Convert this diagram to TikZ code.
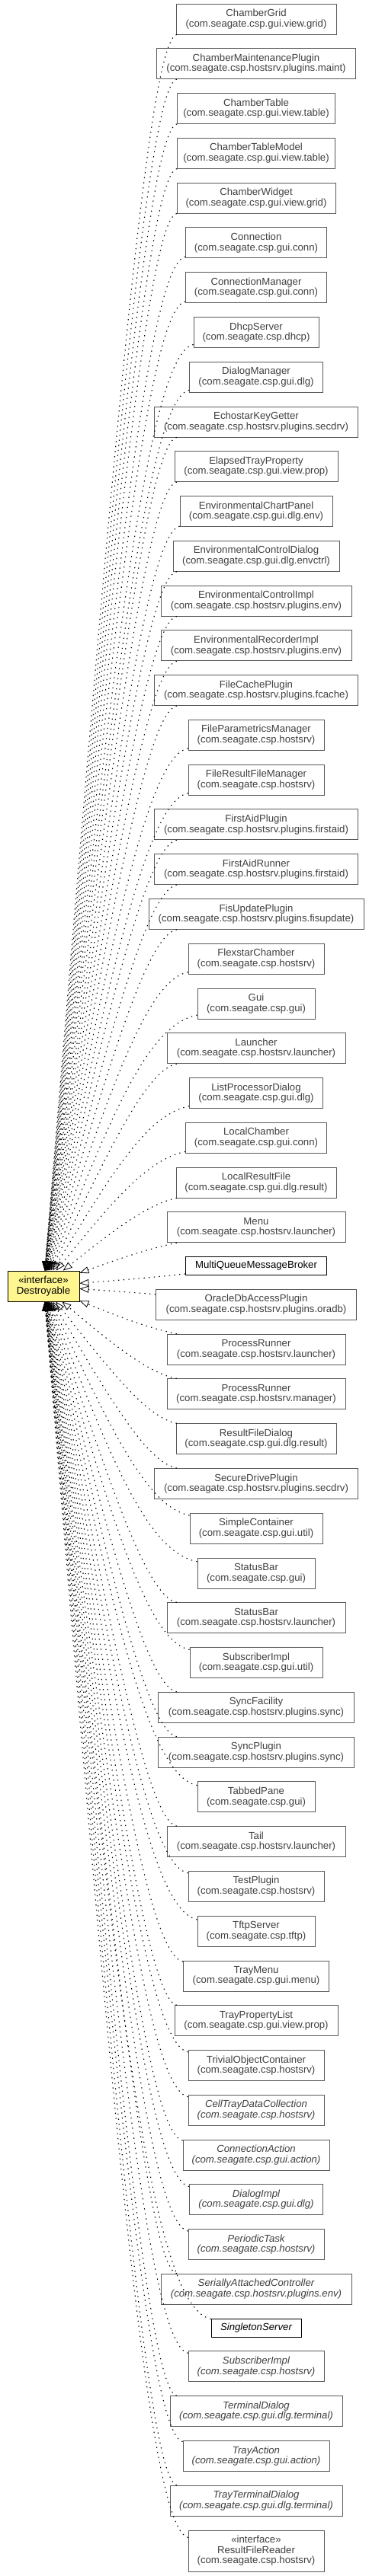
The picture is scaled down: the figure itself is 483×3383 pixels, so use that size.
\documentclass[tikz,border=0pt]{standalone}
\usepackage{fontspec}
\setmainfont{Liberation Sans}
\usetikzlibrary{arrows.meta}
\definecolor{textgray}{gray}{0.25}
\definecolor{boxgray}{gray}{0.35}
\definecolor{ifyellow}{HTML}{FFF68F}
\newcommand\umlfont{\fontsize{13.2}{13.6}\selectfont}
\tikzset{
  cls/.style={draw=boxgray, line width=0.8pt, fill=white, text=textgray, align=center,
    inner xsep=2pt, inner ysep=0pt, minimum height=40pt, font=\umlfont},
  abs/.style={cls, font=\umlfont\itshape},
  cur/.style={draw=black, text=black},
  one/.style={minimum height=24pt},
  dnode/.style={draw=black, line width=0.8pt, fill=ifyellow, text=black, align=center,
    inner xsep=2pt, inner ysep=0pt, minimum height=40pt, minimum width=94pt, font=\umlfont},
  depedge/.style={draw=black, line width=1.1pt, dash pattern=on 1.4pt off 5.3pt,
    -{Triangle[open, length=12pt, width=9pt, line width=0.8pt]}}
}
\begin{document}
\begin{tikzpicture}[x=1pt, y=-1pt]
\useasboundingbox (0,0) rectangle (483,3383);
\node[dnode] (d) at (57,1689) {«interface»\\Destroyable};
\node[cls, minimum width=210pt] (n1) at (336,25) {ChamberGrid\\(com.seagate.csp.gui.view.grid)};
\node[cls, minimum width=261pt] (n2) at (336,83.77) {ChamberMaintenancePlugin\\(com.seagate.csp.hostsrv.plugins.maint)};
\node[cls, minimum width=207pt] (n3) at (336,142.54) {ChamberTable\\(com.seagate.csp.gui.view.table)};
\node[cls, minimum width=207pt] (n4) at (336,201.31) {ChamberTableModel\\(com.seagate.csp.gui.view.table)};
\node[cls, minimum width=208pt] (n5) at (336,260.08) {ChamberWidget\\(com.seagate.csp.gui.view.grid)};
\node[cls, minimum width=185pt] (n6) at (336,318.85) {Connection\\(com.seagate.csp.gui.conn)};
\node[cls, minimum width=185pt] (n7) at (336,377.62) {ConnectionManager\\(com.seagate.csp.gui.conn)};
\node[cls, minimum width=164pt] (n8) at (336,436.39) {DhcpServer\\(com.seagate.csp.dhcp)};
\node[cls, minimum width=175pt] (n9) at (336,495.16) {DialogManager\\(com.seagate.csp.gui.dlg)};
\node[cls, minimum width=267pt] (n10) at (336,553.93) {EchostarKeyGetter\\(com.seagate.csp.hostsrv.plugins.secdrv)};
\node[cls, minimum width=214pt] (n11) at (336,612.7) {ElapsedTrayProperty\\(com.seagate.csp.gui.view.prop)};
\node[cls, minimum width=200pt] (n12) at (336,671.47) {EnvironmentalChartPanel\\(com.seagate.csp.gui.dlg.env)};
\node[cls, minimum width=218pt] (n13) at (336,730.24) {EnvironmentalControlDialog\\(com.seagate.csp.gui.dlg.envctrl)};
\node[cls, minimum width=250pt] (n14) at (336,789.01) {EnvironmentalControlImpl\\(com.seagate.csp.hostsrv.plugins.env)};
\node[cls, minimum width=250pt] (n15) at (336,847.78) {EnvironmentalRecorderImpl\\(com.seagate.csp.hostsrv.plugins.env)};
\node[cls, minimum width=267pt] (n16) at (336,906.55) {FileCachePlugin\\(com.seagate.csp.hostsrv.plugins.fcache)};
\node[cls, minimum width=178pt] (n17) at (336,965.32) {FileParametricsManager\\(com.seagate.csp.hostsrv)};
\node[cls, minimum width=178pt] (n18) at (336,1024.09) {FileResultFileManager\\(com.seagate.csp.hostsrv)};
\node[cls, minimum width=267pt] (n19) at (336,1082.86) {FirstAidPlugin\\(com.seagate.csp.hostsrv.plugins.firstaid)};
\node[cls, minimum width=267pt] (n20) at (336,1141.63) {FirstAidRunner\\(com.seagate.csp.hostsrv.plugins.firstaid)};
\node[cls, minimum width=282pt] (n21) at (336,1200.4) {FisUpdatePlugin\\(com.seagate.csp.hostsrv.plugins.fisupdate)};
\node[cls, minimum width=178pt] (n22) at (336,1259.17) {FlexstarChamber\\(com.seagate.csp.hostsrv)};
\node[cls, minimum width=154pt] (n23) at (336,1317.94) {Gui\\(com.seagate.csp.gui)};
\node[cls, minimum width=234pt] (n24) at (336,1376.71) {Launcher\\(com.seagate.csp.hostsrv.launcher)};
\node[cls, minimum width=175pt] (n25) at (336,1435.48) {ListProcessorDialog\\(com.seagate.csp.gui.dlg)};
\node[cls, minimum width=185pt] (n26) at (336,1494.25) {LocalChamber\\(com.seagate.csp.gui.conn)};
\node[cls, minimum width=210pt] (n27) at (336,1553.02) {LocalResultFile\\(com.seagate.csp.gui.dlg.result)};
\node[cls, minimum width=234pt] (n28) at (336,1611.79) {Menu\\(com.seagate.csp.hostsrv.launcher)};
\node[cls, cur, one, minimum width=185pt] (n29) at (336,1662.56) {MultiQueueMessageBroker};
\node[cls, minimum width=263pt] (n30) at (336,1713.33) {OracleDbAccessPlugin\\(com.seagate.csp.hostsrv.plugins.oradb)};
\node[cls, minimum width=234pt] (n31) at (336,1772.1) {ProcessRunner\\(com.seagate.csp.hostsrv.launcher)};
\node[cls, minimum width=234pt] (n32) at (336,1830.87) {ProcessRunner\\(com.seagate.csp.hostsrv.manager)};
\node[cls, minimum width=210pt] (n33) at (336,1889.64) {ResultFileDialog\\(com.seagate.csp.gui.dlg.result)};
\node[cls, minimum width=267pt] (n34) at (336,1948.41) {SecureDrivePlugin\\(com.seagate.csp.hostsrv.plugins.secdrv)};
\node[cls, minimum width=174pt] (n35) at (336,2007.18) {SimpleContainer\\(com.seagate.csp.gui.util)};
\node[cls, minimum width=154pt] (n36) at (336,2065.95) {StatusBar\\(com.seagate.csp.gui)};
\node[cls, minimum width=234pt] (n37) at (336,2124.72) {StatusBar\\(com.seagate.csp.hostsrv.launcher)};
\node[cls, minimum width=174pt] (n38) at (336,2183.49) {SubscriberImpl\\(com.seagate.csp.gui.util)};
\node[cls, minimum width=257pt] (n39) at (336,2242.26) {SyncFacility\\(com.seagate.csp.hostsrv.plugins.sync)};
\node[cls, minimum width=257pt] (n40) at (336,2301.03) {SyncPlugin\\(com.seagate.csp.hostsrv.plugins.sync)};
\node[cls, minimum width=154pt] (n41) at (336,2359.8) {TabbedPane\\(com.seagate.csp.gui)};
\node[cls, minimum width=234pt] (n42) at (336,2418.57) {Tail\\(com.seagate.csp.hostsrv.launcher)};
\node[cls, minimum width=178pt] (n43) at (336,2477.34) {TestPlugin\\(com.seagate.csp.hostsrv)};
\node[cls, minimum width=154pt] (n44) at (336,2536.11) {TftpServer\\(com.seagate.csp.tftp)};
\node[cls, minimum width=191pt] (n45) at (336,2594.88) {TrayMenu\\(com.seagate.csp.gui.menu)};
\node[cls, minimum width=214pt] (n46) at (336,2653.65) {TrayPropertyList\\(com.seagate.csp.gui.view.prop)};
\node[cls, minimum width=178pt] (n47) at (336,2712.42) {TrivialObjectContainer\\(com.seagate.csp.hostsrv)};
\node[abs, minimum width=178pt] (n48) at (336,2771.19) {CellTrayDataCollection\\(com.seagate.csp.hostsrv)};
\node[abs, minimum width=192pt] (n49) at (336,2829.96) {ConnectionAction\\(com.seagate.csp.gui.action)};
\node[abs, minimum width=175pt] (n50) at (336,2888.73) {DialogImpl\\(com.seagate.csp.gui.dlg)};
\node[abs, minimum width=178pt] (n51) at (336,2947.5) {PeriodicTask\\(com.seagate.csp.hostsrv)};
\node[abs, minimum width=250pt] (n52) at (336,3006.27) {SeriallyAttachedController\\(com.seagate.csp.hostsrv.plugins.env)};
\node[abs, cur, one, minimum width=118pt] (n53) at (336,3057.04) {SingletonServer};
\node[abs, minimum width=178pt] (n54) at (336,3107.81) {SubscriberImpl\\(com.seagate.csp.hostsrv)};
\node[abs, minimum width=226pt] (n55) at (336,3166.58) {TerminalDialog\\(com.seagate.csp.gui.dlg.terminal)};
\node[abs, minimum width=192pt] (n56) at (336,3225.35) {TrayAction\\(com.seagate.csp.gui.action)};
\node[abs, minimum width=226pt] (n57) at (336,3284.12) {TrayTerminalDialog\\(com.seagate.csp.gui.dlg.terminal)};
\node[cls, minimum width=178pt, minimum height=54pt] (n58) at (336,3349.89) {«interface»\\ResultFileReader\\(com.seagate.csp.hostsrv)};
\foreach \n/\yc in {n1/25, n2/83.77, n3/142.54, n4/201.31, n5/260.08, n6/318.85, n7/377.62, n8/436.39, n9/495.16, n10/553.93, n11/612.7, n12/671.47, n13/730.24, n14/789.01, n15/847.78, n16/906.55, n17/965.32, n18/1024.09, n19/1082.86, n20/1141.63, n21/1200.4, n22/1259.17, n23/1317.94, n24/1376.71, n25/1435.48, n26/1494.25, n27/1553.02, n28/1611.79, n29/1662.56, n30/1713.33, n31/1772.1, n32/1830.87, n33/1889.64, n34/1948.41, n35/2007.18, n36/2065.95, n37/2124.72, n38/2183.49, n39/2242.26, n40/2301.03, n41/2359.8, n42/2418.57, n43/2477.34, n44/2536.11, n45/2594.88, n46/2653.65, n47/2712.42, n48/2771.19, n49/2829.96, n50/2888.73, n51/2947.5, n52/3006.27, n53/3057.04, n54/3107.81, n55/3166.58, n56/3225.35, n57/3284.12, n58/3349.89} {
  \pgfmathsetmacro\dy{1689-\yc}
  \pgfmathsetmacro\off{(\dy>0 ? 1 : -1)*min(28, 0.6*abs(\dy))}
  \pgfmathsetmacro\ky{\yc+\off}
  \pgfmathsetmacro\py{\ky+0.35*(1689-\ky)}
  \draw[depedge] (\n) .. controls (193,\ky) and (145.4,\py) .. (d);
}
\end{tikzpicture}
\end{document}
